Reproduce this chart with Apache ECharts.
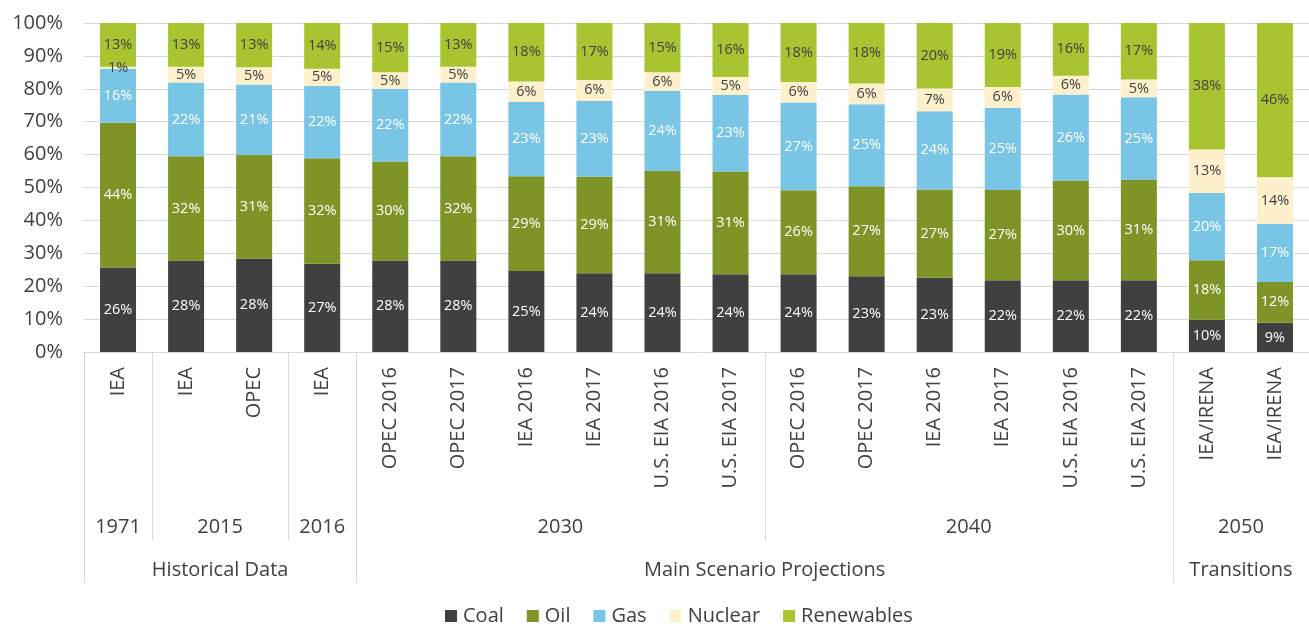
<!DOCTYPE html>
<html>
<head>
<meta charset="utf-8">
<script src="https://cdn.jsdelivr.net/npm/echarts@6/dist/echarts.min.js"></script>
<style>
html,body{margin:0;padding:0;background:#fff;overflow:hidden;}
#chart{width:1309px;height:624px;}
</style>
</head>
<body>
<div id="chart"></div>
<script>
// ---- data ----
const categories = ['IEA','IEA','OPEC','IEA','OPEC 2016','OPEC 2017','IEA 2016','IEA 2017','U.S. EIA 2016','U.S. EIA 2017','OPEC 2016','OPEC 2017','IEA 2016','IEA 2017','U.S. EIA 2016','U.S. EIA 2017','IEA/IRENA','IEA/IRENA'];
const years = ['1971','2015','2016','2030','2040','2050'];
const yearSpans = [1,2,1,6,6,2];
const groups = ['Historical Data','Main Scenario Projections','Transitions'];
const groupSpans = [4,12,2];
const seriesNames = ['Coal','Oil','Gas','Nuclear','Renewables'];
const coal       = [25.7,27.8,28.4,26.8,27.8,27.8,24.6,23.9,23.9,23.6,23.6,23.0,22.6,21.8,21.8,21.8, 9.8, 8.8];
const oil        = [44.0,31.7,31.4,32.1,30.1,31.7,28.8,29.4,31.1,31.2,25.6,27.4,26.8,27.4,30.3,30.6,18.0,12.3];
const gas        = [16.4,22.4,21.4,22.0,22.1,22.4,22.6,23.1,24.3,23.3,26.6,24.9,23.8,25.0,26.2,25.0,20.4,17.4];
const nuclear    = [ 0.6, 4.8, 5.3, 5.2, 5.0, 4.8, 6.2, 6.3, 5.7, 5.4, 6.3, 6.3, 6.9, 6.3, 5.7, 5.4,13.2,14.1];
const renewables = [13.3,13.3,13.4,13.9,15.0,13.3,17.8,17.3,15.0,16.4,17.9,18.4,19.9,19.4,16.0,17.2,38.4,46.4];
const yTicks = [0,10,20,30,40,50,60,70,80,90,100];

// ---- styles ----
const raw = [coal, oil, gas, nuclear, renewables];
const colors = ['#404040','#7E9426','#78C5E6','#FFF0CD','#A8C430'];
const labelColors = ['#ffffff','#ffffff','#ffffff','#404040','#404040'];
const FONT = '"Open Sans", sans-serif';
const TXT = '#404040';

const totals = categories.map((_, i) => raw.reduce((s, arr) => s + arr[i], 0));

const chart = echarts.init(document.getElementById('chart'), null, {renderer: 'canvas'});

const series = seriesNames.map((name, si) => ({
  name: name,
  type: 'bar',
  stack: 'total',
  barWidth: 36,
  data: raw[si].map((v, i) => v / totals[i] * 100),
  itemStyle: {color: colors[si]},
  label: {
    show: true,
    position: 'inside',
    color: labelColors[si],
    fontFamily: FONT,
    fontSize: 14.5,
    formatter: p => Math.round(raw[si][p.dataIndex]) + '%'
  },
  emphasis: {disabled: true}
}));

chart.setOption({
  animation: false,
  textStyle: {fontFamily: FONT},
  grid: {left: 84, right: -11, top: 23, bottom: 272, containLabel: false},
  legend: {
    data: seriesNames,
    left: 440,
    top: 601,
    icon: 'rect',
    itemWidth: 12,
    itemHeight: 12,
    itemGap: 23,
    textStyle: {fontFamily: FONT, fontSize: 20, color: TXT, padding: [0,0,0,1]}
  },
  xAxis: {
    type: 'category',
    data: categories,
    axisLine: {show: true, lineStyle: {color: '#d9d9d9', width: 1}},
    axisTick: {show: false},
    axisLabel: {
      rotate: 90,
      margin: 15,
      fontFamily: FONT,
      fontSize: 20,
      color: TXT,
      interval: 0
    }
  },
  yAxis: {
    type: 'value',
    min: yTicks[0],
    max: yTicks[yTicks.length - 1],
    interval: yTicks[1] - yTicks[0],
    axisLine: {show: false},
    axisTick: {show: false},
    axisLabel: {formatter: '{value}%', fontFamily: FONT, fontSize: 20, color: TXT, margin: 21},
    splitLine: {lineStyle: {color: '#d9d9d9', width: 1}}
  },
  series: series
});

// ---- multi-level category axis drawn from the axis scale ----
function buildGraphics() {
  const c0 = chart.convertToPixel({xAxisIndex: 0}, 0);
  const c1 = chart.convertToPixel({xAxisIndex: 0}, 1);
  const band = c1 - c0;
  const edge = b => chart.convertToPixel({xAxisIndex: 0}, Math.min(b, categories.length - 1)) + (b >= categories.length ? band / 2 : -band / 2);
  const axisY = chart.convertToPixel({yAxisIndex: 0}, 0);
  const yearBottom = 540, groupBottom = 583;
  const yearTextY = 527, groupTextY = 570;
  const els = [];
  const groupBounds = new Set();
  let acc = 0;
  groupBounds.add(0);
  groupSpans.forEach(s => { acc += s; groupBounds.add(acc); });
  acc = 0;
  const yearBounds = [0];
  yearSpans.forEach(s => { acc += s; yearBounds.push(acc); });
  yearBounds.forEach(b => {
    if (b >= categories.length) return;
    const x = Math.round(edge(b)) + 0.5;
    const bottom = groupBounds.has(b) ? groupBottom : yearBottom;
    els.push({type: 'line', shape: {x1: x, y1: axisY, x2: x, y2: bottom}, style: {stroke: '#d9d9d9', lineWidth: 1}, silent: true});
  });
  years.forEach((yr, k) => {
    const x = (edge(yearBounds[k]) + edge(yearBounds[k + 1])) / 2;
    els.push({type: 'text', x: x, y: yearTextY, style: {text: yr, textAlign: 'center', textVerticalAlign: 'middle', font: '20px ' + FONT, fill: TXT}, silent: true});
  });
  acc = 0;
  const gb = [0];
  groupSpans.forEach(s => { acc += s; gb.push(acc); });
  groups.forEach((g, k) => {
    const x = (edge(gb[k]) + edge(gb[k + 1])) / 2;
    els.push({type: 'text', x: x, y: groupTextY, style: {text: g, textAlign: 'center', textVerticalAlign: 'middle', font: '20px ' + FONT, fill: TXT}, silent: true});
  });
  chart.setOption({graphic: els});
}
buildGraphics();
</script>
</body>
</html>
